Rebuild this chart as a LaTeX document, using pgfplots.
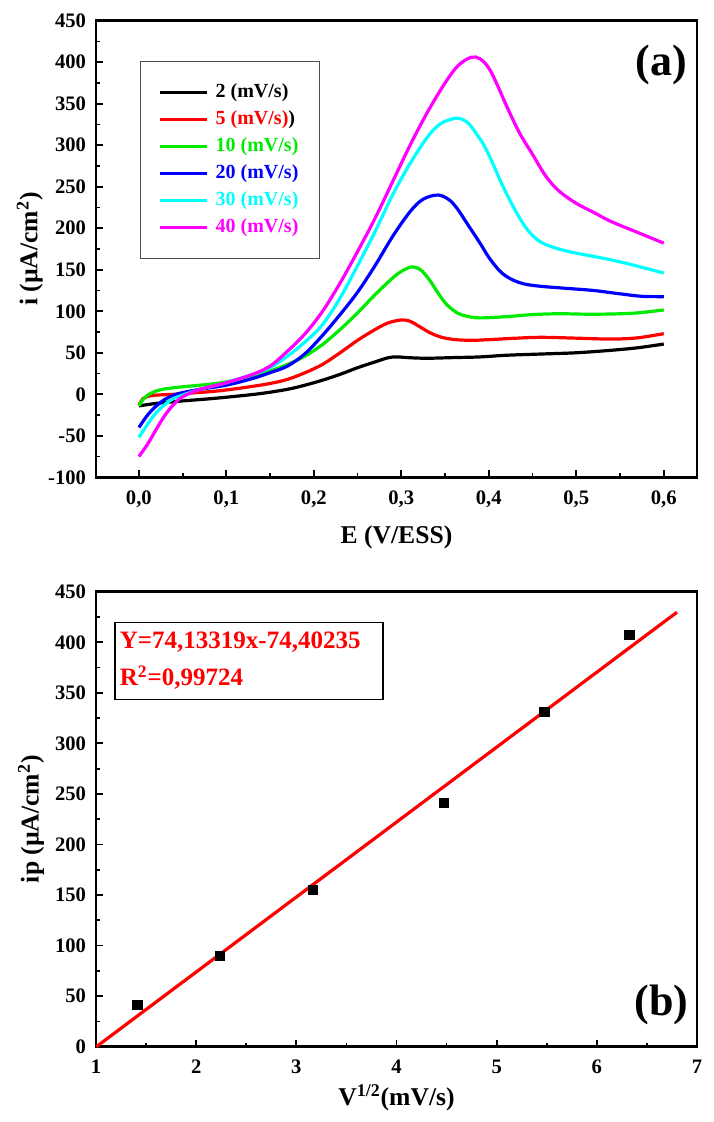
\documentclass[border=0pt]{standalone}
\usepackage{pgfplots}
\pgfplotsset{compat=1.18}
\usepackage{fontspec}
\setmainfont{Liberation Serif}
\definecolor{mygreen}{RGB}{0,235,0}
\definecolor{mycyan}{RGB}{0,255,255}
\definecolor{mymag}{RGB}{255,0,255}
\definecolor{myblue}{RGB}{0,0,255}
\definecolor{myred}{RGB}{255,0,0}
\pgfplotsset{
  myaxis/.style={
    scale only axis, width=300.5pt,
    axis line style={line width=1.3pt},
    tick style={line width=0.9pt, black},
    tick align=inside, xtick pos=bottom, ytick pos=left,
    major tick length=3.5pt, minor tick length=2pt,
    minor x tick num=1, minor y tick num=1,
    ticklabel style={font=\fontsize{10.3}{12}\selectfont\bfseries},
    xticklabel style={yshift=-3pt},
    yticklabel style={xshift=-1.5pt},
    /pgf/number format/assume math mode=true,
    label style={font=\fontsize{12.8}{15}\selectfont\bfseries},
    clip=false,
  }
}
\begin{document}
\begin{tikzpicture}
\path[use as bounding box] (-48pt,-322.35pt) rectangle (308.5pt,238.65pt);
% ---------------- (a)
\begin{axis}[myaxis, height=228.3pt, at={(0pt,0pt)}, anchor=south west,
  xmin=-0.049, xmax=0.638, ymin=-100, ymax=450,
  xtick={0,0.1,0.2,0.3,0.4,0.5,0.6},
  ytick={-100,-50,0,50,100,150,200,250,300,350,400,450},
  xticklabel style={/pgf/number format/.cd, use comma, fixed, fixed zerofill, precision=1},
  xlabel={E (V/ESS)}, ylabel={i (µA/cm\textsuperscript{2})},
  xlabel style={at={(axis description cs:0.5,-0.131)}, anchor=center},
  ylabel style={at={(axis description cs:-0.110,0.5)}, anchor=center},
  legend style={at={(0.073,0.912)}, anchor=north west, draw=black!70, line width=0.6pt, fill=white,
    inner xsep=9pt, inner ysep=9.5pt, row sep=1.5pt, column sep=2pt,
    font=\fontsize{10}{12}\selectfont\bfseries,
    nodes={inner sep=1.5pt, text height=7pt, text depth=2pt}},
  legend cell align=left,
  legend image code/.code={\draw[#1, line width=1.6pt] (0pt,0pt) -- (23.5pt,0pt);},
  every axis plot/.append style={line width=1.6pt, smooth, tension=0.55, mark=none},
]
\addplot[black] coordinates {(0,-14) (0.02,-11) (0.05,-8) (0.08,-5.5) (0.11,-2.5) (0.14,1) (0.17,6) (0.19,11) (0.21,17) (0.23,24) (0.25,32) (0.27,39) (0.285,44) (0.295,45) (0.31,44) (0.33,43.4) (0.36,44.2) (0.39,45) (0.42,47) (0.46,48.5) (0.50,50) (0.54,53) (0.57,56) (0.6,60.5)};
\addlegendentry{2 (mV/s)}
\addplot[myred] coordinates {(0,-13) (0.005,-5) (0.01,-2.5) (0.02,-1) (0.04,0) (0.06,1.5) (0.09,4) (0.12,8) (0.15,13) (0.17,18) (0.19,26) (0.21,36) (0.23,50) (0.25,65) (0.27,78) (0.285,86) (0.30,89.5) (0.31,88) (0.32,82) (0.333,74) (0.345,69) (0.36,66) (0.38,65) (0.40,65.8) (0.43,67.5) (0.46,68.6) (0.50,67.6) (0.54,66.5) (0.57,68) (0.6,73)};
\addlegendentry{\textcolor{myred}{5 (mV/s)})}
\addplot[mygreen] coordinates {(0,-14) (0.005,-6) (0.01,-1) (0.02,4) (0.03,6.5) (0.05,9) (0.08,12) (0.10,15) (0.13,22) (0.15,28) (0.17,36) (0.19,46) (0.21,60) (0.23,78) (0.25,98) (0.27,120) (0.29,140) (0.30,148) (0.312,153.5) (0.322,150) (0.332,138) (0.342,122) (0.352,108) (0.364,98) (0.375,94) (0.39,92) (0.42,93.5) (0.45,96) (0.48,97) (0.51,96.5) (0.54,96.7) (0.57,98) (0.6,101.6)};
\addlegendentry{\textcolor{mygreen}{10 (mV/s)}}
\addplot[myblue] coordinates {(0,-40) (0.01,-25) (0.02,-14) (0.03,-6) (0.04,-1) (0.05,2) (0.07,6) (0.10,11) (0.13,19) (0.15,26) (0.17,34) (0.19,49) (0.21,71) (0.23,96) (0.25,123) (0.27,155) (0.29,190) (0.31,220) (0.325,235) (0.342,240) (0.355,234) (0.365,222) (0.375,206) (0.39,182) (0.40,165) (0.413,148) (0.425,139) (0.44,133) (0.46,130) (0.49,127.5) (0.52,125) (0.55,121) (0.575,118) (0.6,117.6)};
\addlegendentry{\textcolor{myblue}{20 (mV/s)}}
\addplot[mycyan] coordinates {(0,-52) (0.01,-36) (0.02,-22) (0.03,-12) (0.04,-5) (0.05,-1) (0.07,6) (0.10,14) (0.13,24) (0.15,32) (0.17,46) (0.19,63) (0.21,84) (0.23,116) (0.25,155) (0.27,196) (0.29,240) (0.31,278) (0.33,310) (0.345,326) (0.363,332.5) (0.375,328) (0.385,315) (0.395,299) (0.405,277) (0.415,253) (0.43,222) (0.445,197) (0.46,183) (0.48,175) (0.50,170) (0.53,164) (0.56,157) (0.6,146)};
\addlegendentry{\textcolor{mycyan}{30 (mV/s)}}
\addplot[mymag] coordinates {(0,-75) (0.01,-60) (0.02,-42) (0.03,-25) (0.04,-12) (0.05,-3) (0.07,6) (0.10,14) (0.13,24) (0.15,34) (0.17,52) (0.19,73) (0.21,100) (0.23,134) (0.25,172) (0.27,212) (0.29,256) (0.31,300) (0.33,340) (0.35,375) (0.365,396) (0.38,406) (0.39,404) (0.40,393) (0.41,372) (0.42,348) (0.435,315) (0.45,289) (0.465,263) (0.48,245) (0.50,230) (0.52,219) (0.54,208) (0.57,195) (0.6,182)};
\addlegendentry{\textcolor{mymag}{40 (mV/s)}}
\node[font=\fontsize{22}{26}\selectfont\bfseries] at (rel axis cs:0.941,0.904) {(a)};
\end{axis}
% ---------------- (b)
\begin{axis}[myaxis, height=227.5pt, at={(0pt,-284.7pt)}, anchor=south west,
  xmin=1, xmax=7, ymin=0, ymax=450,
  xtick={1,2,3,4,5,6,7},
  ytick={0,50,100,150,200,250,300,350,400,450},
  xlabel={V\textsuperscript{1/2}(mV/s)}, ylabel={ip (µA/cm\textsuperscript{2})},
  xlabel style={at={(axis description cs:0.5,-0.113)}, anchor=center},
  ylabel style={at={(axis description cs:-0.108,0.5)}, anchor=center},
]
\addplot[myred, line width=1.6pt, mark=none] coordinates {(1.00363,0) (6.8,429.7)};
\addplot[only marks, mark=square*, mark size=2.3pt, black] coordinates {(1.414,41) (2.236,90) (3.162,155) (4.472,241) (5.477,331) (6.325,407)};
\node[draw=black, line width=0.6pt, anchor=north west, text=myred, align=left, text width=129pt, inner xsep=2.5pt, inner ysep=5pt,
  font=\fontsize{12.5}{18.5}\selectfont\bfseries] at (rel axis cs:0.0305,0.934) {Y=74,13319x-74,40235\\R\textsuperscript{2}=0,99724};
\node[font=\fontsize{22}{26}\selectfont\bfseries] at (rel axis cs:0.941,0.092) {(b)};
\end{axis}
\end{tikzpicture}
\end{document}
